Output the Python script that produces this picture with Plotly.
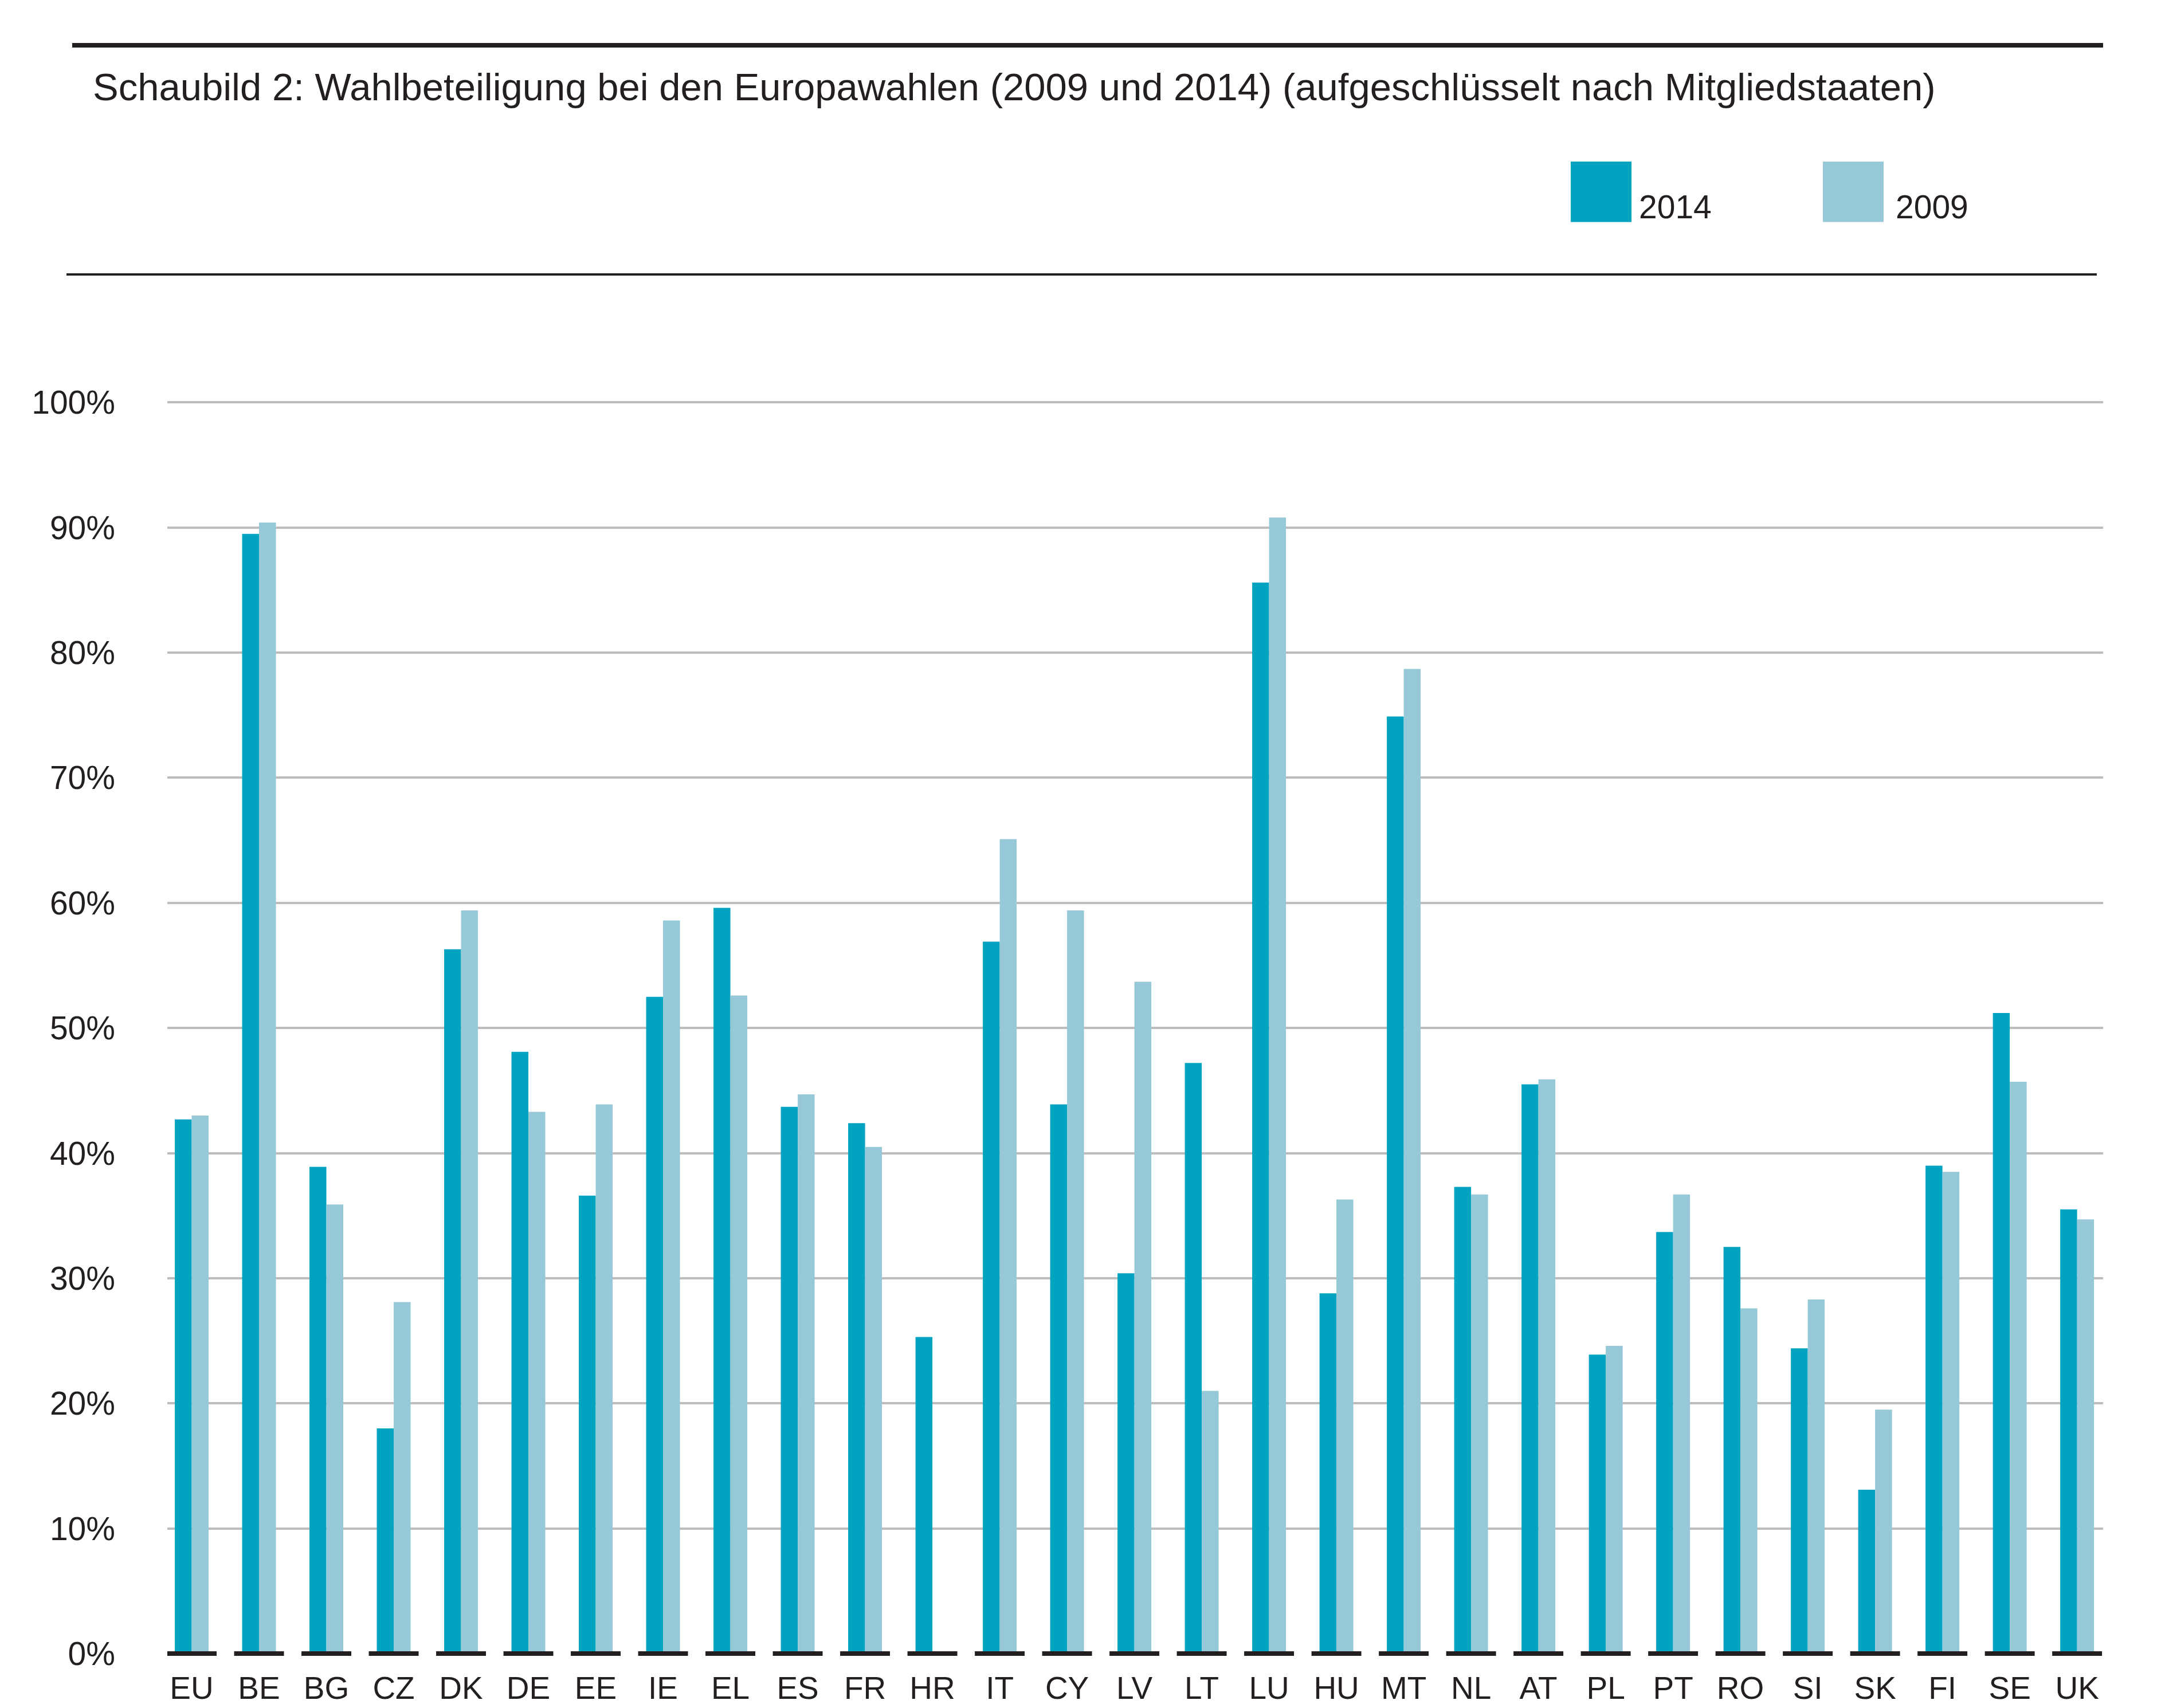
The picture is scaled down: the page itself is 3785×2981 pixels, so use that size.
import plotly.graph_objects as go

# data (turnout in %)
countries = ["EU", "BE", "BG", "CZ", "DK", "DE", "EE", "IE", "EL", "ES", "FR", "HR", "IT", "CY", "LV",
             "LT", "LU", "HU", "MT", "NL", "AT", "PL", "PT", "RO", "SI", "SK", "FI", "SE", "UK"]
turnout_2014 = [42.7, 89.5, 38.9, 18.0, 56.3, 48.1, 36.6, 52.5, 59.6, 43.7, 42.4, 25.3, 56.9, 43.9, 30.4,
                47.2, 85.6, 28.8, 74.9, 37.3, 45.5, 23.9, 33.7, 32.5, 24.4, 13.1, 39.0, 51.2, 35.5]
turnout_2009 = [43.0, 90.4, 35.9, 28.1, 59.4, 43.3, 43.9, 58.6, 52.6, 44.7, 40.5, None, 65.1, 59.4, 53.7,
                21.0, 90.8, 36.3, 78.7, 36.7, 45.9, 24.6, 36.7, 27.6, 28.3, 19.5, 38.5, 45.7, 34.7]
y_ticks = [0, 10, 20, 30, 40, 50, 60, 70, 80, 90, 100]
y_tick_labels = ["0%", "10%", "20%", "30%", "40%", "50%", "60%", "70%", "80%", "90%", "100%"]
series_names = ["2014", "2009"]

TITLE = "Schaubild 2: Wahlbeteiligung bei den Europawahlen (2009 und 2014) (aufgeschlüsselt nach Mitgliedstaaten)"

W, H = 3785, 2981
L, R, T, B = 284, 3662, 690, 2900  # plot area in pixels
DARK = "#00A4C0"
LIGHT = "#97C8D8"
INK = "#231F20"
FONT = "Liberation Sans, Arial, sans-serif"


def px(x):
    return (x - L) / (R - L)


def py(y):
    return (B - y) / (B - T)


fig = go.Figure()
fig.add_trace(go.Bar(x=countries, y=turnout_2014, name=series_names[0], marker=dict(color=DARK, line_width=0)))
fig.add_trace(go.Bar(x=countries, y=turnout_2009, name=series_names[1], marker=dict(color=LIGHT, line_width=0)))

shapes = []
# thick black segment under every category
for i in range(len(countries)):
    shapes.append(dict(type="line", xref="x", yref="y", x0=i - 0.37, x1=i + 0.37, y0=0, y1=0,
                       line=dict(color=INK, width=8), layer="above"))

# header rules
shapes.append(dict(type="line", xref="paper", yref="paper", x0=px(118), x1=px(3662), y0=py(68), y1=py(68),
                   line=dict(color=INK, width=8)))
shapes.append(dict(type="line", xref="paper", yref="paper", x0=px(108), x1=px(3651), y0=py(470), y1=py(470),
                   line=dict(color=INK, width=4)))

# legend boxes
for x0, col in [(2733, DARK), (3173, LIGHT)]:
    shapes.append(dict(type="rect", xref="paper", yref="paper", x0=px(x0), x1=px(x0 + 106),
                       y0=py(378), y1=py(272), fillcolor=col, line_width=0))

annotations = [
    dict(text=TITLE, xref="paper", yref="paper", x=px(152), y=py(141), xanchor="left", yanchor="middle",
         showarrow=False, font=dict(family=FONT, size=67, color=INK)),
    dict(text=series_names[0], xref="paper", yref="paper", x=px(2850), y=py(351), xanchor="left",
         yanchor="middle", showarrow=False, font=dict(family=FONT, size=57, color=INK)),
    dict(text=series_names[1], xref="paper", yref="paper", x=px(3298), y=py(351), xanchor="left",
         yanchor="middle", showarrow=False, font=dict(family=FONT, size=57, color=INK)),
]

fig.update_layout(
    width=W, height=H,
    margin=dict(l=L, r=W - R, t=T, b=H - B, pad=0),
    paper_bgcolor="white", plot_bgcolor="white",
    barmode="group", bargap=0.498, bargroupgap=0,
    showlegend=False,
    shapes=shapes,
    annotations=annotations,
    font=dict(family=FONT, color=INK),
)
fig.update_xaxes(
    range=[-0.362, 28.386], showgrid=False, showline=False, zeroline=False, ticks="",
    tickfont=dict(size=55, color=INK), ticklabelstandoff=12,
)
fig.update_yaxes(
    range=[-0.5, 100.2], tickmode="array", tickvals=y_ticks, ticktext=y_tick_labels,
    showgrid=True, gridcolor="#BDBDBD", gridwidth=3.5,
    zeroline=True, zerolinecolor="white", zerolinewidth=1, showline=False, ticks="",
    tickfont=dict(size=57, color=INK), ticklabelstandoff=90,
)

fig.write_html("out.html")
